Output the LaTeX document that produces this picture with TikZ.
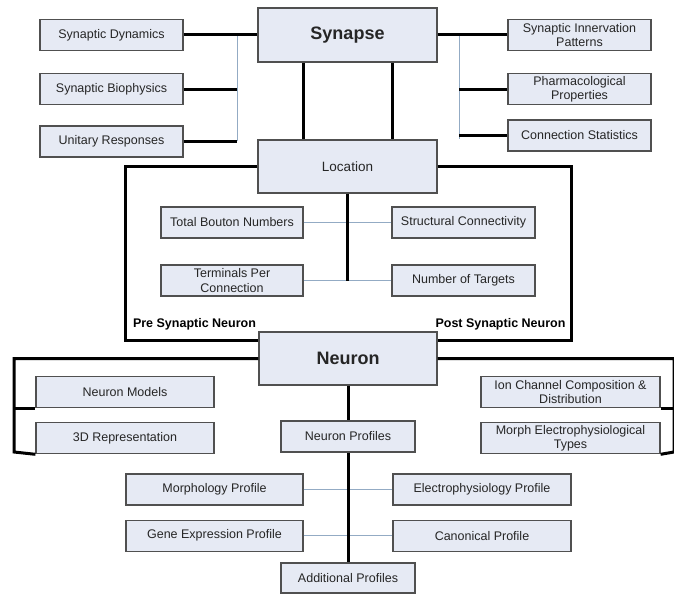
\documentclass[tikz,border=0pt]{standalone}
\usepackage{fontspec}
\setmainfont{Liberation Sans}
\usetikzlibrary{positioning}
\definecolor{boxfill}{HTML}{E6EAF4}
\definecolor{boxline}{HTML}{505050}
\definecolor{linkblue}{HTML}{93ABC4}
\definecolor{boxtext}{HTML}{262626}

\begin{document}
\begin{tikzpicture}[x = 1pt, y = -1pt,
    every node/.style = { align = center, inner sep = 0pt, text = boxtext },
    box/.style = { draw = boxline, fill = boxfill, line width = 1.2pt,
                   font = \fontsize{12.5}{14.5}\selectfont,
                   minimum width = 143pt, minimum height = 31pt },
    big/.style = { box, minimum width = 179pt, minimum height = 54pt,
                   font = \fontsize{18}{20}\selectfont\bfseries },
    lab/.style = { font = \fontsize{12.5}{14}\selectfont\bfseries, text = black },
    bar/.style = { line width = 3pt, black },
    link/.style = { line width = 1pt, linkblue }]
    \useasboundingbox (0,0) rectangle (674,594);

    % synapse and its branches
    \node [big] (synapse) at (347.5,35) {Synapse};
    \node [box] (syndyn) at (111.5,35) {Synaptic Dynamics};
    \node [box, below = 22pt of syndyn] (synbio) {Synaptic Biophysics};
    \node [box, below = 20pt of synbio] (unitary) {Unitary Responses};
    \node [box] (innerv) at (579.5,35) {Synaptic Innervation\\ Patterns};
    \node [box, below = 22pt of innerv] (pharma) {Pharmacological\\ Properties};
    \node [box, below = 14pt of pharma] (connstat) {Connection Statistics};

    % location
    \node [big, minimum height = 53pt, font = \fontsize{13.5}{15}\selectfont] (location) at (347.5,166.5) {Location};
    \node [box, minimum width = 142pt] (bouton) at (232,222.5) {Total Bouton Numbers};
    \node [box] (structural) at (463.5,222.5) {Structural Connectivity};
    \node [box, minimum width = 142pt] (terminals) at (232,280.5) {Terminals Per\\ Connection};
    \node [box] (targets) at (463.5,280.5) {Number of Targets};
    \node [lab] (pre) at (194.5,324) {Pre Synaptic Neuron};
    \node [lab] (post) at (500.5,324) {Post Synaptic Neuron};

    % neuron
    \node [big, minimum width = 178pt, minimum height = 53pt] (neuron) at (348,358.5) {Neuron};
    \node [box, minimum width = 178pt] (models) at (125,392) {Neuron Models};
    \node [box, minimum width = 178pt, below = 14pt of models] (threed) {3D Representation};
    \node [box, minimum width = 179pt] (ionchan) at (570.5,392) {Ion Channel Composition \&\\ Distribution};
    \node [box, minimum width = 179pt, below = 14pt of ionchan] (morphtypes) {Morph Electrophysiological\\ Types};
    \node [box, minimum width = 134pt] (profiles) at (348,436.5) {Neuron Profiles};
    \node [box, minimum width = 177pt] (morphology) at (214.5,489.5) {Morphology Profile};
    \node [box, minimum width = 178pt] (electro) at (482,489.5) {Electrophysiology Profile};
    \node [box, minimum width = 177pt, below = 14pt of morphology] (gene) {Gene Expression Profile};
    \node [box, minimum width = 178pt, below = 14pt of electro] (canonical) {Canonical Profile};
    \node [box, minimum width = 134pt, minimum height = 30pt] (additional) at (348,578) {Additional Profiles};

    \coordinate (lsplit) at (237,35);
    \coordinate (rsplit) at (459,35);
    \coordinate (preleft) at (125,340);
    \coordinate (postright) at (571,340);
    \coordinate (nleft) at (14,452);
    \coordinate (nright) at (674,452);

    % connectors
    \draw [link] (lsplit) -- (unitary -| lsplit);
    \draw [bar] (syndyn) -- (synapse);
    \draw [bar] (synbio) -- (synbio -| lsplit);
    \draw [bar] (unitary) -- (unitary -| lsplit);
    \draw [link] (rsplit) -- ([yshift=-4pt]connstat.west -| rsplit);
    \draw [bar] (synapse) -- (innerv);
    \draw [bar] (pharma -| rsplit) -- (pharma);
    \draw [bar] (connstat -| rsplit) -- (connstat);
    \draw [bar] ([xshift=-44.5pt]synapse.south) -- ([xshift=-44.5pt]location.north);
    \draw [bar] ([xshift=44.5pt]synapse.south) -- ([xshift=44.5pt]location.north);

    \draw [link] (bouton) -- (structural);
    \draw [link] (terminals) -- (targets);
    \draw [bar] (location) -- (location.south |- targets);
    \draw [bar] (location.west) -- (location.west -| preleft) -- (preleft) -- (preleft -| neuron.west);
    \draw [bar] (location.east) -- (location.east -| postright) -- (postright) -- (postright -| neuron.east);

    \draw [bar] (neuron.west) -- (neuron.west -| nleft) -- (nleft) -- (threed.south west);
    \draw [bar] (models.south west -| nleft) -- (models.south west);
    \draw [bar] (neuron.east) -- (neuron.east -| nright) -- (nright) -- (morphtypes.south east);
    \draw [bar] (ionchan.south east -| nright) -- (ionchan.south east);

    \draw [link] (morphology) -- (electro);
    \draw [link] (gene) -- (canonical);
    \draw [bar] (neuron) -- (profiles);
    \draw [bar] (profiles) -- (additional);
\end{tikzpicture}
\end{document}
